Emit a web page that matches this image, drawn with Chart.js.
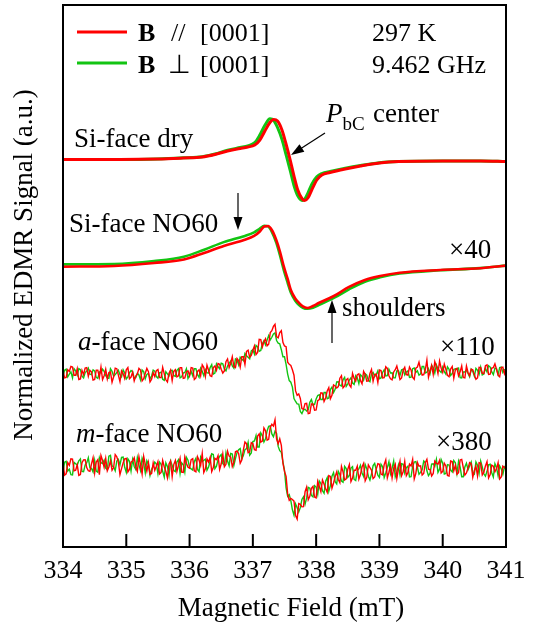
<!DOCTYPE html>
<html>
<head>
<meta charset="utf-8">
<script src="https://cdn.jsdelivr.net/npm/chart.js@4/dist/chart.umd.min.js"></script>
<style>
  html, body { margin: 0; padding: 0; background: #fff; }
</style>
</head>
<body>
<canvas id="edmrChart" width="538" height="622"></canvas>
<script>
// Si-face dry (smooth, P_bC center)
const fieldSiDry = [334.0, 334.9, 335.5, 335.9, 336.2, 336.4, 336.6, 336.8, 336.92, 337.03,
  337.11, 337.19, 337.27, 337.33, 337.39, 337.46, 337.52, 337.59, 337.65, 337.71,
  337.78, 337.82, 337.87, 337.93, 338.01, 338.09, 338.22, 338.46, 338.7, 339.0,
  339.3, 340.0, 340.6, 341.0];
const siDryPar = [0.09, 0.09, 0.18, 0.37, 0.55, 1.01, 1.66, 2.12, 2.4, 2.77,
  3.69, 5.35, 6.92, 7.47, 7.2, 5.54, 3.14, 0, -2.95, -5.54,
  -7.2, -7.47, -7.01, -5.54, -3.69, -2.77, -2.31, -1.66, -1.11, -0.55,
  -0.28, -0.18, -0.18, -0.28];
const siDryPerp = [0.09, 0.09, 0.2, 0.4, 0.6, 1.1, 1.8, 2.3, 2.6, 3.2,
  4.6, 6.4, 7.6, 7.3, 6.0, 3.8, 1.2, -1.9, -4.7, -6.6,
  -7.45, -7.2, -6.1, -4.5, -3.1, -2.5, -2.1, -1.5, -1.0, -0.5,
  -0.28, -0.18, -0.18, -0.28];

// Si-face NO60 (x40)
const fieldSiNO = [334.0, 334.81, 335.44, 335.91, 336.23, 336.54, 336.86, 337.02, 337.11, 337.18,
  337.24, 337.3, 337.37, 337.43, 337.49, 337.55, 337.6, 337.67, 337.73, 337.79,
  337.86, 337.95, 338.04, 338.28, 338.52, 338.77, 339.01, 339.32, 339.96, 340.59, 341.0];
const siNOPar = [-0.13, 0, 0.55, 1.2, 2.4, 3.69, 4.8, 5.54, 6.37, 7.29,
  7.38, 6.64, 4.8, 2.58, -0.13, -2.4, -4.43, -6.0, -6.83, -7.47,
  -7.75, -7.38, -6.83, -5.54, -3.87, -2.58, -1.85, -1.24, -0.74, -0.42, 0.06];
const siNOPerp = [0.3, 0.35, 0.9, 1.7, 3.0, 4.4, 5.5, 6.2, 6.9, 7.4,
  7.3, 6.3, 4.3, 1.9, -0.8, -3.1, -4.9, -6.4, -7.2, -7.7,
  -7.9, -7.7, -7.2, -5.9, -4.3, -2.9, -2.1, -1.4, -0.8, -0.4, 0.06];

// field sweep of the noisy a-face / m-face spectra (even and odd samples)
const fieldSweep = [
  334.00, 334.05, 334.10, 334.15, 334.20, 334.25, 334.30, 334.35, 334.40, 334.45,
  334.50, 334.55, 334.60, 334.65, 334.70, 334.75, 334.80, 334.85, 334.90, 334.95,
  335.00, 335.05, 335.10, 335.15, 335.20, 335.25, 335.30, 335.35, 335.40, 335.45,
  335.50, 335.55, 335.60, 335.65, 335.70, 335.75, 335.80, 335.85, 335.90, 335.95,
  336.00, 336.05, 336.10, 336.15, 336.20, 336.25, 336.30, 336.35, 336.40, 336.45,
  336.50, 336.55, 336.60, 336.65, 336.70, 336.75, 336.80, 336.85, 336.90, 336.95,
  337.00, 337.05, 337.10, 337.15, 337.20, 337.25, 337.30, 337.35, 337.40, 337.45,
  337.50, 337.55, 337.60, 337.65, 337.70, 337.75, 337.80, 337.85, 337.90, 337.95,
  338.00, 338.05, 338.10, 338.15, 338.20, 338.25, 338.30, 338.35, 338.40, 338.45,
  338.50, 338.55, 338.60, 338.65, 338.70, 338.75, 338.80, 338.85, 338.90, 338.95,
  339.00, 339.05, 339.10, 339.15, 339.20, 339.25, 339.30, 339.35, 339.40, 339.45,
  339.50, 339.55, 339.60, 339.65, 339.70, 339.75, 339.80, 339.85, 339.90, 339.95,
  340.00, 340.05, 340.10, 340.15, 340.20, 340.25, 340.30, 340.35, 340.40, 340.45,
  340.50, 340.55, 340.60, 340.65, 340.70, 340.75, 340.80, 340.85, 340.90, 340.95,
  341.00];
const fieldSweepOdd = [
  334.025, 334.075, 334.125, 334.175, 334.225, 334.275, 334.325, 334.375, 334.425, 334.475,
  334.525, 334.575, 334.625, 334.675, 334.725, 334.775, 334.825, 334.875, 334.925, 334.975,
  335.025, 335.075, 335.125, 335.175, 335.225, 335.275, 335.325, 335.375, 335.425, 335.475,
  335.525, 335.575, 335.625, 335.675, 335.725, 335.775, 335.825, 335.875, 335.925, 335.975,
  336.025, 336.075, 336.125, 336.175, 336.225, 336.275, 336.325, 336.375, 336.425, 336.475,
  336.525, 336.575, 336.625, 336.675, 336.725, 336.775, 336.825, 336.875, 336.925, 336.975,
  337.025, 337.075, 337.125, 337.175, 337.225, 337.275, 337.325, 337.375, 337.425, 337.475,
  337.525, 337.575, 337.625, 337.675, 337.725, 337.775, 337.825, 337.875, 337.925, 337.975,
  338.025, 338.075, 338.125, 338.175, 338.225, 338.275, 338.325, 338.375, 338.425, 338.475,
  338.525, 338.575, 338.625, 338.675, 338.725, 338.775, 338.825, 338.875, 338.925, 338.975,
  339.025, 339.075, 339.125, 339.175, 339.225, 339.275, 339.325, 339.375, 339.425, 339.475,
  339.525, 339.575, 339.625, 339.675, 339.725, 339.775, 339.825, 339.875, 339.925, 339.975,
  340.025, 340.075, 340.125, 340.175, 340.225, 340.275, 340.325, 340.375, 340.425, 340.475,
  340.525, 340.575, 340.625, 340.675, 340.725, 340.775, 340.825, 340.875, 340.925, 340.975];

// a-face NO60 (x110)
const aFacePar = [
  0.4, -1.0, 0.1, 0.9, -0.6, -1.4, 0.3, 0.7, -0.8, 0.0,
  -1.4, 0.3, 0.9, -0.7, -1.3, 0.0, -0.9, 0.6, -1.8, -0.3,
  0.4, -1.25, -0.05, -0.75, 0.65, -1.65, -0.25, 0.05, -1.35, -0.85,
  0.45, -1.05, -0.35, -1.85, 0.35, 0.1, -0.9, 0.8, -1.2, 0.0,
  -0.7, 0.7, -1.1, 0.4, 1.3, -0.8, 0.3, -0.85, 1.1, 1.55,
  0.5, 0.2, 2.4, 1.6, 1.0, 2.5, 0.9, 2.8, 3.8, 2.7,
  4.0, 3.2, 6.0, 4.6, 6.1, 5.1, 7.6, 8.8, 6.3, 7.6,
  4.8, 1.8, 1.2, -0.6, -4.3, -4.9, -6.9, -5.8, -7.6, -5.9,
  -7.0, -5.1, -3.9, -4.8, -2.9, -4.3, -2.6, -2.7, -0.7, -2.6,
  -1.2, -2.8, -1.2, -0.5, -1.6, 0.1, -1.7, -0.3, -1.7, -0.4,
  0.35, -1.1, 0.95, -0.7, -1.45, 0.4, -0.15, -1.1, 0.85, -0.6,
  0.35, -1.35, 0.9, 0.45, -0.5, 2.2, 0.1, -0.45, 1.0, 2.0,
  -0.1, 0.5, -0.9, 1.0, 0.4, -0.7, 1.1, -1.1, -0.1, 0.5,
  -0.5, -1.1, 0.8, -0.3, 1.3, -0.4, 0.8, 0.5, -0.9, 0.9,
  0.6];
const aFaceParOdd = [
  -1.1, 0.4, 1.0, -0.6, 0.6, -1.3, -0.5, 0.8, 0.3, -1.5,
  0.3, -1.0, -1.4, 0.5, -0.1, -1.9, 0.7, -0.6, 0.2, -1.2,
  0.8, -0.95, -1.65, -0.35, 0.35, -1.25, 0.65, -1.85, -0.15, 0.25,
  -1.05, 0.85, -1.45, -0.25, -1.6, 0.4, -0.7, 0.8, -1.1, 0.2,
  0.8, -1.4, 0.1, -0.7, 0.8, 1.25, -0.7, 0.8, 0.3, 1.4,
  -0.2, 1.9, 0.8, 2.8, 0.8, 2.1, 2.8, 1.4, 4.0, 3.05,
  4.8, 3.6, 5.95, 5.55, 4.8, 7.25, 8.4, 6.5, 7.25, 5.45,
  4.65, 1.4, 0.4, -3.5, -4.05, -6.75, -5.85, -7.7, -5.9, -7.05,
  -5.3, -3.85, -5.45, -3.5, -4.95, -2.4, -2.95, -1.15, -2.95, -1.45,
  -2.4, -0.25, -1.7, -0.35, -2.2, -0.45, -1.65, 0.45, -0.45, -1.95,
  0.25, -1.05, 0.65, -1.25, 0.0, 1.1, -1.4, 0.3, -0.5, 0.9,
  -1.0, 0.7, 1.8, -0.6, 0.4, -1.0, 1.2, 1.9, -0.3, 0.7,
  1.45, -0.65, 0.55, -1.15, 0.65, 0.05, -1.0, 1.1, -0.7, 0.4,
  -1.35, 0.85, -0.25, 1.15, -0.45, 0.7, 1.5, -0.6, 0.8, -0.3];
const aFacePerp = [
  -0.7, 0.5, -0.4, -1.1, 0.2, 0.6, -0.8, -0.1, 0.7, -0.5,
  0.2, -1.2, -0.2, 0.1, -1.1, 0.6, -0.8, -0.1, -0.5, 0.4,
  -1.3, -0.15, 0.05, -1.05, -0.55, 0.35, -1.25, -0.25, -0.75, 0.15,
  -1.15, -0.05, -1.55, -0.35, 0.25, -0.7, 0.3, -1.1, -0.2, 0.6,
  -0.6, -0.7, 0.6, -1.0, 0.1, 0.4, -0.2, 1.35, -0.2, 0.95,
  1.6, 0.5, 1.1, 2.0, 0.7, 2.2, 2.7, 2.1, 3.0, 2.4,
  4.1, 4.9, 3.8, 5.2, 5.0, 6.7, 6.4, 7.2, 5.3, 4.1,
  2.8, -0.4, -1.9, -4.9, -5.9, -7.3, -7.0, -7.2, -5.6, -6.1,
  -5.0, -4.2, -5.1, -3.8, -4.8, -2.8, -3.2, -1.8, -2.6, -1.0,
  -2.2, -1.1, -2.3, -1.1, -0.5, -1.5, -0.6, -1.8, -0.1, -0.5,
  -1.25, -0.1, -0.75, 0.5, -0.15, -1.1, 0.25, 0.4, -0.55, 0.2,
  -0.95, 0.75, 0.2, -0.35, 1.0, -0.05, -0.3, 0.75, 1.3, 0.2,
  0.9, -0.4, 0.5, -0.3, 0.6, 0.7, -1.1, 0.0, -0.3, 0.5,
  -0.8, 0.3, 0.9, -0.4, 0.0, 0.9, -0.5, 0.6, 0.8, -0.1,
  0.5];
const aFacePerpOdd = [
  0.3, -0.9, 0.0, 0.6, -0.6, 0.4, -1.1, 0.1, -0.4, 0.4,
  -1.0, 0.0, 0.5, -0.7, -1.2, 0.1, -0.5, 0.3, -0.9, -0.2,
  -0.9, 0.25, -1.15, -0.25, -1.45, 0.05, -0.45, -1.25, 0.35, -0.85,
  -0.15, -1.35, 0.05, -0.75, 0.3, -0.8, 0.6, -0.9, -0.1, -1.2,
  0.1, 0.6, -0.5, 0.7, -0.7, -0.15, 0.8, -0.4, 1.5, 0.6,
  1.5, 0.2, 1.6, 1.1, 2.4, 1.3, 2.4, 3.4, 2.7, 3.9,
  3.3, 4.6, 3.95, 5.75, 5.9, 5.9, 7.0, 5.8, 5.2, 2.8,
  1.4, -1.6, -2.8, -5.45, -5.95, -7.7, -6.9, -6.95, -5.1, -6.0,
  -4.35, -5.1, -3.8, -4.95, -3.25, -3.8, -1.85, -2.45, -1.45, -2.65,
  -1.5, -2.05, -0.7, -2.15, -0.8, -0.35, -1.55, -0.35, -0.85, 0.2,
  -1.1, 0.4, -0.7, -0.2, -1.1, 0.2, -0.6, 0.5, 0.0, -1.0,
  0.6, -0.1, -0.6, 1.0, -0.2, 0.6, 1.2, -0.2, 0.6, -0.1,
  0.05, 0.95, -0.65, 0.45, 0.55, -1.05, 0.0, 0.3, -0.9, 0.1,
  0.65, -0.45, -0.55, 0.65, 1.15, 0.0, 0.7, -0.5, 0.9, 0.4];

// m-face NO60 (x380)
const mFacePar = [
  0.7, -1.25, 0.3, 1.45, -0.6, -1.55, 0.8, 1.35, -0.7, 0.55,
  -1.1, 1.35, 2.1, -0.05, -0.7, 1.15, -0.1, 1.9, -1.4, 0.75,
  1.6, -0.45, 1.1, 0.05, 1.9, -1.3, 0.5, 0.8, -1.2, -0.6,
  1.0, -1.0, 0.05, -2.0, 1.1, 0.45, -0.8, 1.6, -1.0, 0.7,
  -0.2, 1.55, -0.9, 1.25, 2.5, -0.35, 0.9, -0.85, 1.6, 2.1,
  0.6, 0.05, 2.9, 1.8, 0.9, 2.95, 0.7, 3.1, 4.3, 2.8,
  4.3, 3.1, 6.1, 4.8, 6.7, 5.1, 7.9, 8.7, 4.3, 4.0,
  -0.8, -5.0, -5.8, -6.3, -9.6, -6.9, -7.3, -3.7, -5.4, -3.6,
  -5.7, -3.6, -2.4, -4.0, -1.6, -3.9, -1.8, -2.3, 0.1, -2.4,
  -0.4, -2.7, -0.6, 0.15, -1.4, 0.65, -1.9, -0.1, -2.15, -0.4,
  0.5, -1.45, 1.3, -0.95, -2.0, 0.5, -0.35, -1.6, 1.0, -1.05,
  0.2, -2.2, 0.85, 0.2, -1.2, 1.4, -0.45, -1.2, 0.7, 1.2,
  -0.8, 0.2, -1.65, 1.0, 0.3, -1.05, 1.4, -1.5, -0.2, 0.6,
  -0.7, -1.65, 0.7, -0.95, 1.0, -1.4, 0.15, -0.3, -2.2, 0.15,
  -0.3];
const mFaceParOdd = [
  -1.5, 0.8, 1.5, -0.7, 0.4, -1.4, 1.3, -0.1, -0.8, 1.7,
  0.9, -1.4, 1.2, 1.6, 0.0, -0.6, 2.3, 0.9, -0.3, 1.5,
  -0.9, 0.9, 1.7, -0.8, 0.45, 1.95, -0.75, -1.35, 0.75, 0.15,
  -1.3, 1.2, -0.8, 0.55, -1.8, 1.2, 0.35, -0.95, 1.85, -0.05,
  1.35, -0.7, 1.9, 0.3, -1.0, 1.5, 1.8, -0.1, 1.35, -0.45,
  2.4, 0.5, 2.0, 0.1, 2.8, 2.5, 1.3, 4.6, 2.65, 4.5,
  3.2, 5.7, 4.6, 7.2, 4.95, 7.3, 7.55, 5.15, 5.2, 0.75,
  -1.75, -6.15, -6.0, -8.95, -6.75, -7.35, -4.55, -6.05, -3.95, -5.55,
  -2.65, -4.55, -3.15, -4.65, -1.75, -2.95, -0.9, -2.9, -0.9, -2.2,
  0.45, -2.05, -0.6, -2.25, 0.0, -2.55, 0.4, -0.6, -1.85, 0.6,
  -1.3, 0.45, -2.0, 0.25, -0.2, -2.1, 1.05, -0.9, -1.6, 0.55,
  1.4, -1.2, 0.15, -1.5, 0.8, -0.4, -1.65, 1.1, 0.5, -1.1,
  0.7, -1.55, 1.1, -0.7, -1.35, 1.3, -0.1, -1.1, 0.8, -1.9,
  0.15, 0.8, -1.45, 0.2, -2.0, 0.35, -0.9, 0.8, -1.85, -0.1];
const mFacePerp = [
  -1.0, 1.05, -0.4, -1.45, 0.6, 1.15, -0.8, 0.35, 1.7, -0.25,
  1.2, -0.95, 0.8, 1.25, -0.5, 2.15, 0.0, 1.1, 0.4, 1.85,
  -1.0, 1.05, 1.4, -0.45, 0.4, 1.6, -1.1, 0.5, -0.4, 0.9,
  -1.2, 0.5, -1.85, 0.1, 1.1, -0.65, 0.9, -1.2, 0.4, 1.8,
  -0.1, -0.55, 1.6, -0.85, 1.0, 1.45, 0.0, 2.45, -0.3, 1.4,
  2.3, 0.35, 1.1, 2.5, 0.3, 2.65, 3.4, 2.1, 3.4, 2.2,
  4.7, 5.8, 3.7, 5.8, 5.2, 7.5, 6.1, 6.6, 3.8, 2.7,
  -0.6, -5.4, -6.2, -8.9, -7.5, -7.5, -5.5, -5.7, -3.9, -5.5,
  -3.7, -2.6, -4.4, -2.6, -4.5, -1.7, -2.7, -0.8, -2.6, 0.1,
  -1.9, -0.2, -2.3, -0.65, 0.3, -1.75, -0.3, -2.4, 0.25, -0.5,
  -1.9, 0.05, -1.1, 0.95, -0.2, -1.8, 0.35, 0.6, -1.1, 0.15,
  -1.8, 0.9, -0.05, -1.0, 1.1, -0.7, -1.15, 0.6, 1.4, -0.4,
  0.7, -1.2, 0.35, -0.9, 0.8, 1.05, -1.8, 0.0, -0.5, 0.9,
  -1.3, 0.35, 1.1, -1.25, -0.8, 0.5, -1.85, -0.1, 0.2, -1.35,
  -0.4];
const mFacePerpOdd = [
  0.9, -0.75, -1.4, 0.85, 0.35, 1.5, -0.85, 0.8, -0.15, -0.9,
  -0.75, 1.7, 0.65, -0.2, 2.0, 0.2, -0.7, 1.4, 1.8, -0.05,
  1.5, -0.75, 0.1, 1.75, -0.65, 0.65, 1.15, -1.55, 0.15, 0.55,
  0.9, -0.8, 0.75, -1.55, 0.3, -0.85, 1.35, 0.75, -0.95, 1.25,
  -0.35, 1.0, -0.45, 1.8, 1.25, -0.6, 1.05, 2.3, 0.15, 1.95,
  0.6, 2.6, 0.2, 2.4, 1.55, 3.2, 1.5, 3.2, 4.55, 2.6,
  4.8, 3.7, 6.3, 4.6, 6.65, 7.6, 5.6, 6.2, 3.0, 0.95,
  -3.85, -5.1, -7.9, -6.8, -8.3, -6.0, -6.85, -3.75, -5.25, -3.45,
  -5.05, -3.05, -4.85, -1.95, -3.45, -1.05, -3.1, -1.4, -2.8, -0.3,
  -1.55, 0.05, -2.5, -0.35, -1.1, 0.45, -1.7, -1.3, 0.65, -1.5,
  0.5, -1.95, -0.1, -1.25, 1.1, -0.9, -1.45, 0.5, -0.1, -1.85,
  0.1, 1.0, -1.35, -0.5, 0.8, -1.6, 0.55, 0.1, -1.0, 1.4,
  -1.3, 0.45, -0.6, 1.2, -1.15, 0.0, -1.8, 0.7, 0.2, -1.0,
  0.95, -1.2, 0.0, -1.7, 0.4, -1.05, 0.6, -1.6, -0.35, 0.0];

// vertical offsets of the stacked spectra (dry, Si NO60, a NO60, m NO60)
const traceOffsets = [71.4, 51.85, 32.3, 14.76];
const fieldTicks = [334, 335, 336, 337, 338, 339, 340, 341];

const RED = '#ff0000';
const GREEN = '#12c412';
const SERIF = "'Liberation Serif', 'Times New Roman', serif";

function pts(xs, ys, off) {
  return xs.map((x, i) => ({ x: x, y: ys[i] + off }));
}

// interleave the even and odd samples of one sweep
function sweep(ysEven, ysOdd, off) {
  return pts(fieldSweep, ysEven, off)
    .concat(pts(fieldSweepOdd, ysOdd, off))
    .sort((p, q) => p.x - q.x);
}

function trace(data, color, width, smooth, order) {
  return {
    data: data,
    borderColor: color,
    borderWidth: width,
    pointRadius: 0,
    fill: false,
    cubicInterpolationMode: smooth ? 'monotone' : 'default',
    tension: 0,
    order: order
  };
}

const datasets = [
  trace(pts(fieldSiDry, siDryPar, traceOffsets[0]), RED, 3, true, 0),
  trace(pts(fieldSiDry, siDryPerp, traceOffsets[0]), GREEN, 3, true, 1),
  trace(pts(fieldSiNO, siNOPar, traceOffsets[1]), RED, 2.6, true, 0),
  trace(pts(fieldSiNO, siNOPerp, traceOffsets[1]), GREEN, 2.6, true, 1),
  trace(sweep(aFacePar, aFaceParOdd, traceOffsets[2]), RED, 1.4, false, 0),
  trace(sweep(aFacePerp, aFacePerpOdd, traceOffsets[2]), GREEN, 1.4, false, 1),
  trace(sweep(mFacePar, mFaceParOdd, traceOffsets[3]), RED, 1.4, false, 0),
  trace(sweep(mFacePerp, mFacePerpOdd, traceOffsets[3]), GREEN, 1.4, false, 1)
];

function arrowHead(ctx, x, y, ang) {
  ctx.save();
  ctx.translate(x, y);
  ctx.rotate(ang);
  ctx.beginPath();
  ctx.moveTo(0, 0);
  ctx.lineTo(-13, -4.5);
  ctx.lineTo(-13, 4.5);
  ctx.closePath();
  ctx.fill();
  ctx.restore();
}

function arrow(ctx, x1, y1, x2, y2) {
  const ang = Math.atan2(y2 - y1, x2 - x1);
  ctx.beginPath();
  ctx.moveTo(x1, y1);
  ctx.lineTo(x2 - 10 * Math.cos(ang), y2 - 10 * Math.sin(ang));
  ctx.stroke();
  arrowHead(ctx, x2, y2, ang);
}

// text with an italic first part (a-face, m-face, P)
function mixed(ctx, parts, x, y) {
  parts.forEach(p => {
    ctx.font = p[1];
    ctx.fillText(p[0], x, y + (p[2] || 0));
    x += ctx.measureText(p[0]).width;
  });
}

const framePlugin = {
  id: 'frame',
  afterDraw(chart) {
    const ctx = chart.ctx;
    const a = chart.chartArea;
    const xs = chart.scales.x;
    const F = '27px ' + SERIF;
    const FI = 'italic 27px ' + SERIF;
    ctx.save();
    ctx.strokeStyle = '#000';
    ctx.fillStyle = '#000';
    ctx.lineWidth = 2;
    ctx.strokeRect(a.left, a.top, a.right - a.left, a.bottom - a.top);
    // inward tick marks
    fieldTicks.slice(1, -1).forEach(v => {
      const px = xs.getPixelForValue(v);
      ctx.beginPath();
      ctx.moveTo(px, a.bottom);
      ctx.lineTo(px, a.bottom - 13);
      ctx.stroke();
    });

    // axis titles
    ctx.textBaseline = 'alphabetic';
    ctx.textAlign = 'center';
    ctx.font = F;
    ctx.fillText('Magnetic Field (mT)', 291, 616);
    ctx.save();
    ctx.translate(32, 265);
    ctx.rotate(-Math.PI / 2);
    ctx.fillText('Normalized EDMR Signal (a.u.)', 0, 0);
    ctx.restore();

    // legend
    ctx.lineWidth = 3;
    ctx.strokeStyle = RED;
    ctx.beginPath(); ctx.moveTo(77, 32); ctx.lineTo(127, 32); ctx.stroke();
    ctx.strokeStyle = GREEN;
    ctx.beginPath(); ctx.moveTo(77, 63); ctx.lineTo(127, 63); ctx.stroke();

    ctx.textAlign = 'left';
    ctx.font = 'bold 26px ' + SERIF;
    ctx.fillText('B', 138, 41);
    ctx.fillText('B', 138, 73);
    ctx.font = '26px ' + SERIF;
    ctx.fillText('//', 171, 41);
    ctx.fillText('\u22A5', 168, 73);
    ctx.fillText('[0001]', 200, 41);
    ctx.fillText('[0001]', 200, 73);
    ctx.fillText('297 K', 372, 41);
    ctx.fillText('9.462 GHz', 372, 73);

    // trace labels
    ctx.font = F;
    ctx.fillText('Si-face dry', 74, 147);
    ctx.fillText('Si-face NO60', 69, 232);
    ctx.fillText('\u00D740', 449, 258);
    ctx.fillText('shoulders', 342, 316);
    ctx.fillText('\u00D7110', 440, 355);
    ctx.fillText('\u00D7380', 436, 450);
    mixed(ctx, [['a', FI], ['-face NO60', F]], 78, 350);
    mixed(ctx, [['m', FI], ['-face NO60', F]], 76, 442);
    mixed(ctx, [['P', FI], ['bC', '19px ' + SERIF, 8]], 326, 122);
    ctx.font = F;
    ctx.fillText('center', 373, 122);

    // arrows
    ctx.lineWidth = 1.2;
    ctx.strokeStyle = '#000';
    arrow(ctx, 325, 133, 291, 155);
    arrow(ctx, 238, 193, 238, 230);
    arrow(ctx, 332, 343, 332, 300);
    ctx.restore();
  }
};

new Chart(document.getElementById('edmrChart'), {
  type: 'line',
  data: { datasets: datasets },
  plugins: [framePlugin],
  options: {
    responsive: false,
    animation: false,
    events: [],
    layout: { padding: { left: 0, right: 32, top: 5, bottom: 0 } },
    plugins: { legend: { display: false }, tooltip: { enabled: false } },
    scales: {
      x: {
        type: 'linear',
        min: 334,
        max: 341,
        afterBuildTicks: s => { s.ticks = fieldTicks.map(v => ({ value: v })); },
        afterFit: s => { s.height = 75; },
        grid: { display: false, drawTicks: false },
        border: { display: false },
        ticks: {
          color: '#000',
          padding: 9,
          maxRotation: 0,
          font: { family: SERIF, size: 26 }
        }
      },
      y: {
        min: 0,
        max: 100,
        afterFit: s => { s.width = 63; },
        grid: { display: false, drawTicks: false },
        border: { display: false },
        ticks: { display: false }
      }
    }
  }
});
</script>
</body>
</html>
